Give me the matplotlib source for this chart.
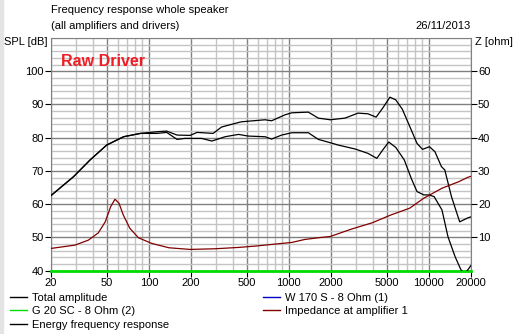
import numpy as np
import matplotlib.pyplot as plt
from matplotlib.lines import Line2D
from matplotlib.ticker import FixedLocator, NullFormatter

plt.rcParams['font.family'] = ['Liberation Sans', 'DejaVu Sans']
plt.rcParams['font.size'] = 8

# Total amplitude (on-axis SPL), dB
freq_total = [20, 29, 38, 50, 66, 87, 114, 134, 159, 197, 221, 288, 330, 357, 448, 460,
              676, 753, 940, 1050, 1378, 1623, 1977, 2518, 3120, 3670, 4200, 4680, 5270,
              5800, 6460, 7390, 8230, 9010, 10100, 11050, 12300, 13000, 14500, 16600,
              19000, 20000]
spl_total = [62.6, 68.3, 73.3, 77.8, 80.3, 81.3, 81.8, 82.0, 80.8, 80.7, 81.6, 81.3, 83.2,
             83.6, 84.7, 84.8, 85.4, 85.1, 86.9, 87.5, 87.7, 85.9, 85.4, 85.9, 87.4, 87.2,
             86.2, 88.9, 92.2, 91.4, 88.6, 82.9, 78.3, 76.5, 77.3, 75.8, 71.3, 70.3, 62.3,
             54.7, 55.9, 56.2]

# Energy frequency response, dB
freq_energy = [20, 29, 38, 50, 66, 87, 114, 134, 159, 181, 238, 282, 350, 437, 512, 676,
               753, 888, 1050, 1378, 1623, 1977, 2250, 2980, 3670, 4250, 4680, 5170, 5800,
               6680, 7480, 8230, 9200, 10000, 10900, 12400, 13700, 15400, 16900, 17600,
               18500, 20000]
spl_energy = [62.6, 68.3, 73.3, 77.8, 80.3, 81.3, 81.3, 81.6, 79.5, 79.8, 79.8, 79.0, 80.3,
              81.0, 80.5, 80.3, 79.6, 80.8, 81.5, 81.5, 79.5, 78.5, 77.8, 76.6, 75.3, 73.8,
              76.3, 78.7, 77.1, 73.3, 67.8, 63.8, 62.8, 62.8, 62.3, 58.3, 50.2, 44.2, 40.4,
              39.4, 39.6, 41.6]

# G 20 SC tweeter (not connected), dB
freq_tweeter = [20, 20000]
spl_tweeter = [40, 40]

# Impedance at amplifier 1, ohm
freq_imp = [20, 29.7, 37, 43.6, 48.8, 53.4, 57.3, 61.2, 65.6, 73, 84.3, 105, 139, 197,
            297, 437, 573, 796, 1050, 1300, 1623, 1977, 2792, 3933, 5380, 7290, 9200,
            12400, 16400, 19000, 20000]
imp = [6.7, 7.7, 9.2, 11.4, 14.7, 19.3, 21.5, 20.3, 16.8, 12.8, 9.9, 8.2, 6.9, 6.4,
       6.6, 7.0, 7.4, 8.0, 8.5, 9.4, 9.9, 10.3, 12.5, 14.4, 16.8, 18.8, 21.8, 24.8, 26.8,
       28.1, 28.4]

xticks = [20, 50, 100, 200, 500, 1000, 2000, 5000, 10000, 20000]
xtick_labels = ['20', '50', '100', '200', '500', '1000', '2000', '5000', '10000', '20000']
minor_freqs = [30, 40, 60, 70, 80, 90, 300, 400, 600, 700, 800, 900,
               3000, 4000, 6000, 7000, 8000, 9000]

W, H = 519, 334
fig = plt.figure(figsize=(W / 100, H / 100), dpi=100)
fig.patches.append(plt.Rectangle((0, 0), 3 / W, 1, transform=fig.transFigure,
                                 color='#e4e4e4', zorder=0))

x0, x1, y_top, y_bot = 51, 471, 38, 270.7
ax = fig.add_axes([x0 / W, (H - y_bot) / H, (x1 - x0) / W, (y_bot - y_top) / H])
ax.set_xscale('log')
ax.set_xlim(20, 20000)
ax.set_ylim(40, 110)

# grid: dark majors, light minors
ax.xaxis.set_major_locator(FixedLocator(xticks))
ax.set_xticklabels(xtick_labels)
ax.xaxis.set_minor_locator(FixedLocator(minor_freqs))
ax.xaxis.set_minor_formatter(NullFormatter())
ax.set_yticks(np.arange(40, 110, 10))
ax.yaxis.set_minor_locator(FixedLocator(np.arange(40, 111, 2)))
ax.grid(which='major', color='#808080', linewidth=1.0)
ax.grid(which='minor', color='#c4c4c4', linewidth=1.0)
ax.set_axisbelow(True)
ax.tick_params(which='minor', length=0)
ax.tick_params(which='major', length=4, width=0.8, color='black', labelsize=8, pad=1)
for s in ax.spines.values():
    s.set_color('#808080')

ax2 = ax.twinx()
ax2.set_ylim(0, 70)
ax2.set_yticks(np.arange(10, 70, 10))
ax2.tick_params(length=4, width=0.8, labelsize=8, pad=1)
for s in ax2.spines.values():
    s.set_visible(False)

ax.plot(freq_tweeter, spl_tweeter, color='#00dd00', linewidth=2, clip_on=False, zorder=3)
ax.plot(freq_total, spl_total, color='black', linewidth=0.9, zorder=4)
ax.plot(freq_energy, spl_energy, color='black', linewidth=0.9, zorder=4)
ax2.plot(freq_imp, imp, color='#800000', linewidth=0.9)

fig.text(61 / W, 1 - 61 / H, 'Raw Driver', color='#ee1c24', fontsize=11.5,
         fontweight='bold', va='center', ha='left')

fig.text(x0 / W, 1 - 10 / H, 'Frequency response whole speaker', va='center', ha='left')
fig.text(x0 / W, 1 - 26 / H, '(all amplifiers and drivers)', va='center', ha='left')
fig.text(x1 / W, 1 - 26 / H, '26/11/2013', va='center', ha='right')
fig.text(47 / W, 1 - 42 / H, 'SPL [dB]', va='center', ha='right')
fig.text(475 / W, 1 - 42 / H, 'Z [ohm]', va='center', ha='left')

handles = [Line2D([], [], color='black', lw=1), Line2D([], [], color='#00dd00', lw=1),
           Line2D([], [], color='black', lw=1), Line2D([], [], color='#0000c8', lw=1),
           Line2D([], [], color='#800000', lw=1)]
labels = ['Total amplitude', 'G 20 SC - 8 Ohm (2)', 'Energy frequency response',
          'W 170 S - 8 Ohm (1)', 'Impedance at amplifier 1']
legend_kw = dict(loc='upper left', frameon=False, handlelength=1.5, handletextpad=0.45,
                 labelspacing=0.3, borderaxespad=0, borderpad=0, fontsize=8)
fig.legend(handles[:3], labels[:3], bbox_to_anchor=(10 / W, 1 - 293 / H), **legend_kw)
fig.legend(handles[3:], labels[3:], bbox_to_anchor=(263 / W, 1 - 293 / H), **legend_kw)

fig.savefig('out.png', dpi=100)
